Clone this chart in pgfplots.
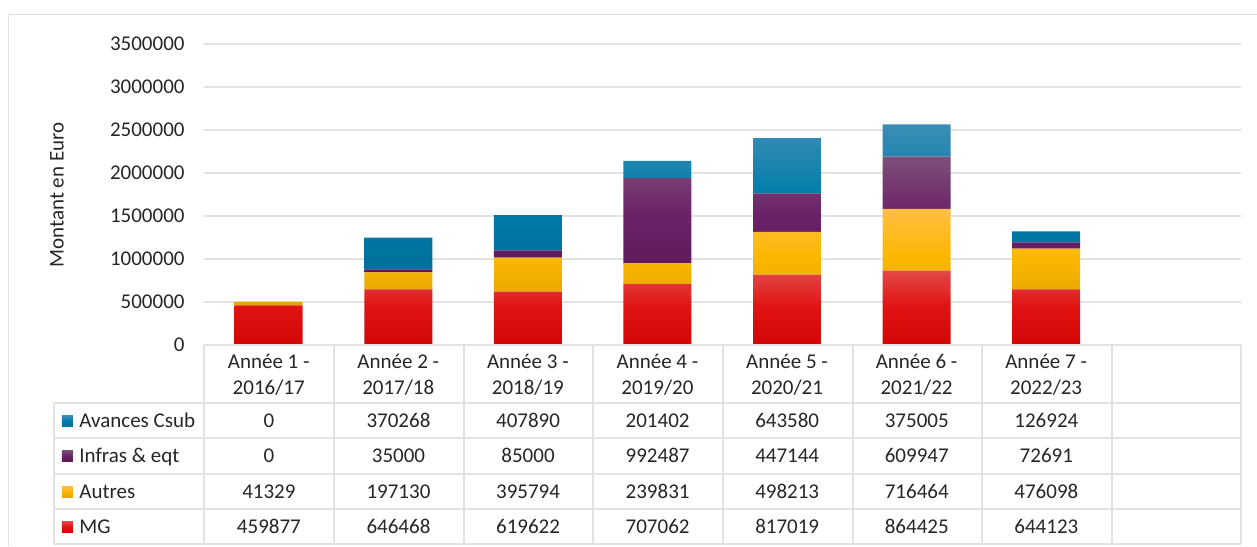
\documentclass[border=0pt]{standalone}
\usepackage{fontspec}
\setmainfont{Carlito}
\usepackage{pgfplots}
\usepackage{pgfplotstable}
\pgfplotsset{compat=1.18}

\definecolor{txt}{HTML}{262626}
\definecolor{gridc}{HTML}{E2E2E2}
\definecolor{redT}{HTML}{E24848}
\definecolor{redM}{HTML}{E01212}
\definecolor{redB}{HTML}{D20606}
\definecolor{yelT}{HTML}{FFBE45}
\definecolor{yelM}{HTML}{FBB800}
\definecolor{yelB}{HTML}{E3A400}
\definecolor{purT}{HTML}{7F4F78}
\definecolor{purM}{HTML}{6A2268}
\definecolor{purB}{HTML}{5C1A5C}
\definecolor{bluT}{HTML}{3D8DB5}
\definecolor{bluM}{HTML}{007DAA}
\definecolor{bluB}{HTML}{006F9B}

\tikzset{
  sMG/.style={top color=redT, bottom color=redB, middle color=redM},
  sAutres/.style={top color=yelT, bottom color=yelB, middle color=yelM},
  sInfras/.style={top color=purT, bottom color=purB, middle color=purM},
  sAvances/.style={top color=bluT, bottom color=bluB, middle color=bluM},
}

% montants par annee (x = 0 .. 6)
\pgfplotstableread{
x MG Autres Infras Avances
0 459877 41329 0 0
1 646468 197130 35000 370268
2 619622 395794 85000 407890
3 707062 239831 992487 201402
4 817019 498213 447144 643580
5 864425 716464 609947 375005
6 644123 476098 72691 126924
}\montants

\begin{document}
\fontsize{10.5}{13}\selectfont
\begin{tikzpicture}
\begin{scope}[x=0.5pt,y=-0.5pt]
  \useasboundingbox (0,0) rectangle (1257,546);
\end{scope}

\begin{axis}[
  at={(102pt,-172.5pt)}, anchor=south west,
  scale only axis, width=518.5pt, height=150.5pt,
  ybar stacked, bar width=34pt,
  xmin=-0.5, xmax=7.5, ymin=0, ymax=3500000,
  xtick={0,...,6},
  xticklabels={Année 1 -\\2016/17, Année 2 -\\2017/18, Année 3 -\\2018/19,
    Année 4 -\\2019/20, Année 5 -\\2020/21, Année 6 -\\2021/22, Année 7 -\\2022/23},
  xticklabel style={align=center, anchor=center, yshift=-15pt, text=txt},
  ytick={0,500000,...,3500000},
  scaled y ticks=false,
  yticklabel style={anchor=east, inner sep=0pt, xshift=-9.5pt, text=txt,
    /pgf/number format/1000 sep={}, /pgf/number format/fixed},
  /pgf/number format/assume math mode=true,
  ymajorgrids, grid style={draw=gridc, line width=0.75pt},
  axis line style={draw=none},
  major tick length=0pt,
  clip=false,
]
  \addplot[draw=none, sMG] table[x=x, y=MG] {\montants};
  \addplot[draw=none, sAutres] table[x=x, y=Autres] {\montants};
  \addplot[draw=none, sInfras] table[x=x, y=Infras] {\montants};
  \addplot[draw=none, sAvances] table[x=x, y=Avances] {\montants};
\end{axis}

\begin{scope}[x=0.5pt,y=-0.5pt]
  % cadre
  \draw[gridc, line width=0.5pt] (9,546) -- (9,15) -- (1257,15);
  % titre de l'axe
  \node[rotate=90, text=txt] at (57,195) {Montant en Euro};
  % grille du tableau
  \begin{scope}[draw=gridc, line width=1pt]
    \draw (204,345) -- (1241,345);
    \foreach \y in {403,438.5,474,509,544} \draw (54,\y) -- (1241,\y);
    \draw (54,403) -- (54,544);
    \foreach \x in {204,334,464,593,723,853,982,1112,1241} \draw (\x,345) -- (\x,544);
  \end{scope}
  % legende
  \foreach \s/\lab/\yy in {Avances/Avances Csub/421, Infras/Infras \& eqt/456,
      Autres/Autres/492, MG/MG/527}{
    \path[s\s] (62,\yy-5.5) rectangle (73,\yy+5.5);
    \node[anchor=base west, inner sep=0pt, text=txt] at (79,\yy+7) {\lab};
    \foreach \c in {0,...,6}{
      \pgfplotstablegetelem{\c}{\s}\of\montants
      \node[anchor=base, inner sep=0pt, text=txt] at ({269+129.625*\c},\yy+7) {\pgfplotsretval};
    }
  }
\end{scope}
\end{tikzpicture}
\end{document}
